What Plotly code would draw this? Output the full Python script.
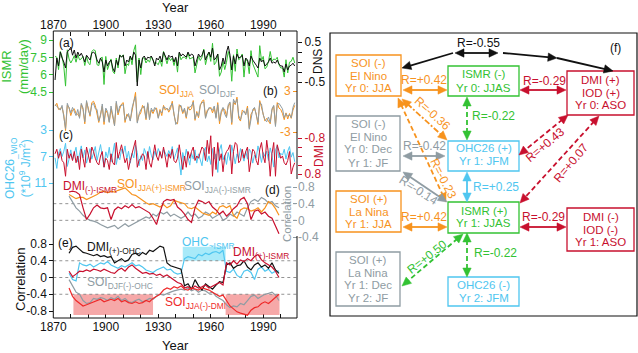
import math
import plotly.graph_objects as go

W, H = 638, 353
FONT = "Liberation Sans, Arial, sans-serif"

# ---------------- data ----------------
years = list(range(1871, 2009))
ismr = [7.58, 7.51, 6.44, 8.01, 7.58, 6.72, 5.01, 8.15, 7.36, 7.01,
        7.29, 7.65, 7.08, 7.72, 7.29, 7.36, 7.58, 6.79, 7.58, 7.01,
        6.86, 8.01, 8.15, 8.08, 6.86, 6.79, 7.44, 7.51, 5.15, 7.58,
        6.44, 7.01, 7.36, 6.29, 6.08, 7.44, 6.58, 7.72, 7.51, 7.72,
        6.08, 6.94, 6.79, 7.58, 6.86, 8.08, 8.58, 5.36, 7.44, 6.01,
        7.44, 7.44, 7.01, 7.29, 7.08, 7.58, 7.22, 6.94, 7.01, 6.86,
        7.29, 6.72, 8.01, 7.44, 6.94, 7.51, 7.22, 7.44, 6.79, 7.44,
        6.22, 7.87, 7.29, 7.51, 7.51, 7.36, 7.87, 7.36, 7.44, 7.51,
        6.15, 6.86, 7.58, 7.22, 7.51, 8.22, 6.86, 7.51, 7.94, 7.15,
        8.72, 6.86, 7.08, 7.79, 5.86, 6.22, 7.15, 6.44, 7.08, 8.01,
        7.44, 5.43, 7.72, 6.29, 8.22, 7.29, 7.44, 7.79, 5.79, 7.36,
        7.15, 6.08, 8.08, 6.94, 6.58, 6.22, 5.79, 8.51, 7.22, 7.58,
        6.51, 6.65, 7.15, 8.01, 7.15, 7.36, 7.29, 7.51, 6.86, 6.58,
        6.58, 5.79, 7.29, 6.15, 7.08, 7.15, 7.51, 7.01]
dns = [-0.45, 0.10, -0.10, 0.25, 0.10, 0.00, -0.15, 0.25, 0.30, 0.37,
       0.17, 0.30, 0.10, 0.25, 0.15, 0.22, 0.12, 0.00, 0.17, 0.10,
       0.05, 0.22, 0.25, 0.20, 0.05, -0.03, 0.10, 0.00, -0.25, 0.05,
       -0.10, 0.00, 0.05, -0.15, -0.25, 0.05, -0.08, 0.17, 0.12, 0.17,
       -0.10, 0.05, 0.00, 0.15, 0.05, 0.25, 0.17, -0.60, 0.05, -0.15,
       0.10, 0.15, 0.05, 0.12, 0.10, 0.15, 0.05, -0.10, 0.10, 0.05,
       0.15, 0.00, 0.25, 0.15, 0.05, 0.17, 0.12, 0.15, 0.00, 0.12,
       -0.10, 0.25, 0.15, 0.20, 0.17, 0.12, 0.25, 0.15, 0.20, 0.17,
       -0.10, 0.05, 0.20, 0.12, 0.17, 0.30, 0.05, 0.17, 0.25, 0.12,
       0.35, 0.05, 0.10, 0.20, -0.20, -0.10, 0.10, -0.05, 0.25, 0.40,
       0.17, -0.20, 0.15, -0.05, 0.20, 0.10, 0.12, 0.17, -0.10, 0.10,
       0.05, -0.10, 0.15, 0.05, -0.03, -0.08, -0.15, 0.10, 0.00, 0.05,
       -0.10, -0.05, 0.00, 0.10, -0.03, 0.00, -0.03, 0.05, -0.05, -0.10,
       -0.10, -0.25, -0.05, -0.20, -0.10, -0.08, -0.03, -0.10]
soi_jja = [0.8, 1.2, 0.3, 0.5, 0.6, -0.5, -2.8, 0.9, 0.6, -0.6,
           0.2, 0.4, -0.3, -0.4, -0.8, 1.0, 0.3, -1.8, 1.4, 0.5,
           -0.7, 1.3, 1.5, 0.9, -0.2, -1.6, -0.4, 0.8, -1.9, 0.2,
           -0.3, -1.5, 0.4, -0.8, -2.0, 1.2, -0.5, 0.4, 1.1, 1.3,
           -1.6, -0.4, -0.6, -1.3, 0.1, 1.8, 2.8, -1.5, -0.6, -0.2,
           0.9, 0.4, -1.2, 1.1, -1.0, 0.2, -0.3, 0.3, 0.5, -0.9,
           0.3, -0.6, 0.9, 0.2, 0.5, -0.1, 0.4, 1.5, -0.5, -1.6,
           -1.8, 1.0, 0.6, -0.3, 0.3, -1.0, 0.7, 0.2, 0.4, 1.6,
           -1.3, 0.0, -0.9, 0.8, 1.5, 1.7, -0.8, 0.2, 0.3, 0.6,
           -0.2, 0.5, -0.8, 1.3, -1.8, -0.2, 0.4, 0.3, -0.7, 0.8,
           1.2, -1.9, 1.4, 1.0, 2.1, -1.0, -1.4, 0.2, -0.1, -0.3,
           0.8, -2.4, -0.4, 0.1, 0.5, -0.4, -1.9, 1.6, 0.7, -0.2,
           -1.4, -1.0, -1.5, -1.8, 0.2, 0.8, -2.0, 1.3, 0.5, 0.3,
           -0.3, -1.2, -0.2, -1.1, -0.3, -1.0, 0.2, 0.9]
soi_djf = [1.0, 0.8, 0.5, 0.2, 0.9, -0.8, -2.5, 1.2, 0.3, -0.2,
           0.6, 0.1, -0.6, 0.3, -1.0, 1.2, 0.5, -1.5, 1.6, 0.2,
           -0.5, 1.0, 1.2, 0.4, 0.3, -1.4, -0.6, 1.1, -1.5, 0.5,
           0.0, -1.6, 0.8, -0.5, -2.1, 1.5, -0.2, 0.8, 0.9, 1.0,
           -1.3, -0.8, -0.3, -1.4, 0.5, 1.5, 2.2, -1.7, -0.4, 0.3,
           0.6, 0.8, -1.0, 1.3, -1.2, 0.5, 0.0, 0.6, 0.2, -1.0,
           0.1, -0.2, 0.7, 0.5, 0.3, 0.2, 0.8, 1.2, -0.3, -1.9,
           -1.5, 0.8, 0.9, -0.1, 0.5, -0.8, 0.5, 0.6, 0.8, 1.4,
           -1.1, -0.2, -0.7, 1.0, 1.3, 1.4, -1.0, -0.1, 0.6, 0.4,
           0.2, 0.8, -1.0, 1.0, -1.4, 0.1, 0.6, -0.4, -0.9, 1.0,
           1.4, -1.6, 1.8, 1.2, 1.8, -0.6, -1.2, -0.3, 0.1, -0.5,
           0.5, -2.6, -0.8, 0.3, 0.6, -0.7, -1.6, 1.3, 1.1, -0.5,
           -1.2, -1.5, -0.8, -1.6, 0.4, 0.9, -2.2, 1.0, 1.2, 0.8,
           0.4, -0.9, -0.3, -0.7, -0.5, -0.9, 0.6, 1.3]
ohc = [7.2, 8.8, 6.5, 5.8, 7.0, 6.2, 5.0, 8.5, 7.4, 6.0,
       7.5, 6.3, 5.6, 7.8, 6.6, 5.4, 7.2, 6.0, 8.0, 6.8,
       5.8, 7.4, 6.2, 5.5, 7.6, 6.4, 5.2, 7.0, 8.6, 6.3,
       7.2, 5.6, 7.8, 6.5, 5.0, 8.2, 6.8, 7.5, 5.9, 6.6,
       5.4, 7.4, 6.2, 8.0, 6.5, 7.2, 5.3, 6.4, 8.4, 6.9,
       7.6, 5.8, 6.6, 7.3, 5.5, 6.8, 7.5, 6.2, 7.0, 5.8,
       6.5, 7.2, 5.9, 6.4, 7.0, 6.1, 6.8, 5.5, 7.4, 6.6,
       5.7, 7.8, 9.8, 6.4, 7.6, 5.9, 7.2, 8.3, 6.5, 7.4,
       6.0, 8.0, 6.6, 7.5, 8.4, 6.2, 5.6, 7.8, 6.9, 8.2,
       5.8, 7.4, 6.6, 9.4, 6.0, 5.2, 7.5, 6.8, 8.2, 6.4,
       7.6, 5.3, 6.8, 8.1, 6.6, 7.3, 5.8, 6.9, 7.7, 6.2,
       7.4, 5.9, 6.3, 8.0, 6.8, 7.2, 5.4, 6.5, 7.9, 6.4,
       7.0, 6.2, 7.6, 5.7, 6.8, 8.6, 6.0, 5.4, 7.2, 6.5,
       6.8, 5.9, 7.4, 6.2, 5.5, 7.1, 6.4, 7.8]
dmi = [-0.1, -0.3, 0.1, -0.2, 0.2, 0.3, 0.9, -0.3, 0.1, -0.1,
       0.2, -0.2, 0.3, 0.0, 0.6, -0.3, 0.1, 0.5, -0.4, 0.0,
       0.3, -0.4, -0.2, 0.1, 0.3, 0.4, 0.0, -0.2, 0.5, 0.1,
       0.2, 0.6, -0.1, 0.3, 0.4, -0.6, 0.1, -0.2, -0.5, -0.1,
       0.3, 0.1, 0.6, 0.2, -0.1, -0.5, -0.7, 0.5, 0.2, 0.1,
       -0.1, 0.0, 0.6, -0.2, 0.3, 0.5, -0.1, -0.5, 0.0, 0.2,
       -0.2, 0.1, -0.4, 0.0, 0.5, -0.1, 0.1, -0.3, 0.2, 0.3,
       0.1, -0.5, 0.2, 0.6, 0.0, 0.5, -0.2, 0.1, -0.2, -0.4,
       0.2, 0.0, 0.1, -0.2, -0.4, -0.3, 0.2, -0.7, -0.1, -0.9,
       0.9, -0.4, 0.6, -0.6, 0.2, -0.1, 0.7, 0.0, -0.2, -0.3,
       -0.5, 0.8, -0.2, -0.6, -0.5, 0.3, 0.2, -0.3, 0.1, -0.2,
       -0.4, 0.7, 0.1, -0.3, -0.2, 0.2, 0.4, -0.3, -0.6, 0.0,
       0.3, -0.7, -0.1, 0.9, -0.1, -0.6, 0.9, -0.5, -0.2, 0.1,
       0.0, 0.3, 0.4, 0.2, -0.2, 0.8, 0.5, 0.3]

cyears = list(range(1879, 2000, 2))
d_dmi_ismr = [0.68, 0.70, 0.68, 0.62, 0.30, 0.02, 0.15, 0.30, 0.37, 0.30,
              0.28, 0.30, 0.02, 0.25, 0.32, 0.28, 0.35, 0.30, 0.38, 0.30,
              0.33, 0.28, 0.22, 0.18, 0.05, -0.10, 0.20, 0.45, 0.50, 0.48,
              0.50, 0.32, 0.25, 0.15, 0.02, -0.05, 0.30, 0.48, 0.45, 0.40,
              0.45, 0.32, 0.25, 0.15, 0.22, 0.10, 0.18, 0.28, 0.35, 0.50,
              0.55, 0.40, 0.02, 0.22, 0.25, 0.15, 0.20, 0.10, 0.05, -0.15,
              -0.32]
d_soi_ismr_p = [0.62, 0.58, 0.52, 0.55, 0.55, 0.50, 0.55, 0.58, 0.62, 0.68,
                0.70, 0.66, 0.70, 0.68, 0.72, 0.75, 0.78, 0.70, 0.62, 0.60,
                0.55, 0.48, 0.42, 0.38, 0.40, 0.35, 0.32, 0.38, 0.30, 0.35,
                0.48, 0.45, 0.42, 0.40, 0.30, 0.28, 0.32, 0.25, 0.18, 0.15,
                0.12, 0.20, 0.15, 0.32, 0.35, 0.30, 0.35, 0.12, 0.05, 0.25,
                0.30, 0.28, 0.22, 0.25, 0.30, 0.20, 0.30, 0.45, 0.40, 0.28,
                0.12]
d_soi_ismr_n = [0.58, 0.45, 0.30, 0.22, 0.12, 0.05, 0.00, -0.02, -0.05, -0.10,
                -0.15, -0.18, -0.15, -0.12, -0.20, -0.15, -0.08, -0.15, -0.10, -0.05,
                -0.02, 0.05, 0.08, 0.05, 0.15, 0.10, 0.20, 0.15, 0.20, 0.10,
                0.15, 0.10, 0.05, 0.10, 0.20, 0.10, 0.15, 0.05, 0.10, 0.20,
                0.15, 0.05, 0.10, 0.15, 0.00, 0.05, 0.15, 0.10, 0.20, 0.15,
                0.10, 0.30, 0.45, 0.50, 0.45, 0.55, 0.50, 0.42, 0.45, 0.35,
                0.30]
e_dmi_ohc = [0.58, 0.72, 0.75, 0.68, 0.60, 0.58, 0.55, 0.52, 0.55, 0.50,
             0.52, 0.48, 0.50, 0.35, 0.40, 0.45, 0.38, 0.42, 0.55, 0.58,
             0.52, 0.60, 0.55, 0.65, 0.62, 0.68, 0.75, 0.72, 0.35, 0.28,
             0.25, 0.22, 0.20, -0.20, -0.15, -0.28, -0.05, -0.20, -0.30, -0.15,
             -0.22, -0.28, -0.18, -0.10, -0.12, 0.30, 0.35, 0.22, 0.28, 0.30,
             0.40, 0.25, 0.18, 0.30, 0.35, 0.25, 0.30, 0.22, 0.35, 0.18,
             0.10]
e_ohc_ismr = [0.10, -0.05, -0.08, 0.35, 0.30, 0.28, 0.32, 0.25, 0.30, 0.35,
              0.32, 0.38, 0.30, 0.25, 0.22, 0.28, 0.25, 0.30, 0.35, 0.28,
              0.30, 0.25, 0.18, 0.15, 0.12, 0.18, 0.22, 0.25, 0.18, 0.20,
              0.12, 0.08, 0.10, 0.45, 0.50, 0.48, 0.45, 0.55, 0.52, 0.58,
              0.55, 0.60, 0.62, 0.58, 0.65, 0.15, 0.12, 0.20, 0.05, 0.00,
              0.15, 0.18, 0.12, -0.05, 0.20, 0.25, 0.15, 0.20, 0.10, 0.15,
              0.15]
e_dmi_ismr = [0.15, 0.02, 0.08, 0.15, 0.14, 0.18, 0.15, 0.20, 0.18, 0.15,
              0.20, 0.15, 0.12, 0.10, 0.18, 0.22, 0.15, 0.25, 0.30, 0.22,
              0.15, 0.10, 0.12, 0.08, 0.10, 0.05, 0.08, 0.02, 0.06, 0.00,
              -0.05, -0.12, -0.15, -0.25, -0.22, -0.28, -0.20, -0.25, -0.22, -0.18,
              -0.25, -0.20, -0.15, -0.12, -0.18, 0.35, 0.30, 0.40, 0.32, 0.42,
              0.38, 0.45, 0.40, 0.50, 0.55, 0.42, 0.35, 0.30, 0.25, 0.15,
              0.00]
e_soidjf_ohc = [-0.05, -0.20, -0.35, -0.40, -0.55, -0.62, -0.60, -0.50, -0.52, -0.48,
                -0.50, -0.55, -0.48, -0.52, -0.45, -0.55, -0.50, -0.58, -0.60, -0.55,
                -0.52, -0.58, -0.55, -0.50, -0.52, -0.45, -0.40, -0.42, -0.38, -0.35,
                -0.32, -0.30, -0.28, -0.30, -0.25, -0.32, -0.28, -0.35, -0.30, -0.32,
                -0.38, -0.35, -0.45, -0.50, -0.55, -0.65, -0.72, -0.68, -0.70, -0.62,
                -0.65, -0.55, -0.45, -0.42, -0.50, -0.45, -0.40, -0.38, -0.35, -0.42,
                -0.55]
e_soijja_dmi = [-0.25, -0.45, -0.55, -0.62, -0.68, -0.65, -0.62, -0.58, -0.55, -0.52,
                -0.58, -0.55, -0.52, -0.55, -0.50, -0.58, -0.55, -0.60, -0.62, -0.58,
                -0.62, -0.60, -0.55, -0.58, -0.50, -0.45, -0.40, -0.30, -0.25, -0.28,
                -0.22, -0.25, -0.20, -0.28, -0.30, -0.25, -0.28, -0.30, -0.25, -0.28,
                -0.30, -0.35, -0.40, -0.45, -0.42, -0.55, -0.68, -0.75, -0.82, -0.85,
                -0.88, -0.90, -0.78, -0.72, -0.70, -0.62, -0.58, -0.62, -0.55, -0.48,
                -0.40]
red_periods = [(1881.5, 1927.0), (1968.5, 1999.3)]
red_band = (-0.4, -0.895)
blue_periods = [(1944.0, 1968.5)]
blue_band = (0.4, 0.735)

# ---------------- styles ----------------
GREEN = "#33C233"
ORANGE = "#F7931E"
GRAY = "#8F9CA3"
BLUE = "#4FC6F0"
RED = "#C8102E"
BRED = "#EE2A2A"
BLACK = "#111111"

XL, XR, YT, YB = 53.3, 297.0, 31.0, 318.0


def fx(px):
    return px / W


def fy(py):
    return 1 - py / H


def yax(v1, p1, v2, p2, ptop, pbot, **kw):
    k = (p2 - p1) / (v2 - v1)
    vt = v1 + (ptop - p1) / k
    vb = v1 + (pbot - p1) / k
    d = dict(domain=[fy(pbot), fy(ptop)], range=[vb, vt], showgrid=False,
             zeroline=False, anchor="free", automargin=False, fixedrange=True,
             showline=False, ticks="outside", ticklen=4, tickwidth=1,
             tickfont=dict(size=12, family=FONT))
    d.update(kw)
    return d


fig = go.Figure()


def add(x, y, ya, color, w=1.0):
    fig.add_trace(go.Scatter(x=x, y=y, mode="lines", xaxis="x", yaxis=ya,
                             line=dict(color=color, width=w),
                             hoverinfo="skip", showlegend=False))


add(years, ismr, "y", GREEN)
add(years, dns, "y2", BLACK)
add(years, soi_jja, "y3", ORANGE)
add(years, soi_djf, "y3", GRAY)
add(years, ohc, "y4", BLUE)
add(years, dmi, "y5", RED)
add(cyears, d_soi_ismr_n, "y6", GRAY, 1.2)
add(cyears, d_soi_ismr_p, "y6", ORANGE, 1.2)
add(cyears, d_dmi_ismr, "y6", RED, 1.2)
add(cyears, e_soidjf_ohc, "y7", GRAY, 1.2)
add(cyears, e_ohc_ismr, "y7", BLUE, 1.2)
add(cyears, e_dmi_ohc, "y7", BLACK, 1.2)
add(cyears, e_dmi_ismr, "y7", RED, 1.2)
add(cyears, e_soijja_dmi, "y7", BRED, 1.2)
# dummy for top axis
fig.add_trace(go.Scatter(x=[1900], y=[7], xaxis="x2", yaxis="y", mode="markers",
                         marker=dict(opacity=0), hoverinfo="skip", showlegend=False))

xcommon = dict(domain=[fx(XL), fx(XR)], range=[1870, 2009.3], showgrid=False,
               zeroline=False, anchor="free", automargin=False, fixedrange=True,
               showline=False, tickmode="linear", tick0=1870, dtick=30,
               ticks="inside", ticklen=4, tickcolor=BLACK,
               minor=dict(dtick=10, tick0=1870, ticks="inside", ticklen=4, tickcolor=BLACK),
               tickfont=dict(size=12, family=FONT, color=BLACK))

layout = dict(
    width=W, height=H, margin=dict(l=0, r=0, t=0, b=0),
    paper_bgcolor="white", plot_bgcolor="rgba(0,0,0,0)", template="none",
    font=dict(family=FONT, size=12, color=BLACK), showlegend=False,
    xaxis=dict(xcommon, position=fy(YB)),
    xaxis2=dict(xcommon, position=fy(YT), side="top", overlaying="x"),
    yaxis=yax(9, 40, 4.5, 92, 32, 100, position=fx(XL), side="left",
              tickvals=[4.5, 6, 7.5, 9], ticktext=["4.5", "6", "7.5", "9"],
              tickcolor=GREEN, tickfont=dict(size=12, family=FONT, color=GREEN)),
    yaxis2=yax(0.5, 42, -0.5, 82, 32, 100, position=fx(XR), side="right",
               tickvals=[-0.5, 0.5], ticktext=["-0.5", "0.5"],
               minor=dict(tickmode="array", tickvals=[-0.25, 0, 0.25], ticks="outside",
                          ticklen=4, tickcolor=BLACK),
               tickcolor=BLACK, tickfont=dict(size=12, family=FONT, color=BLACK)),
    yaxis3=yax(3, 91, -3, 132, 85, 142, position=fx(XR), side="left",
               tickvals=[-3, 3], ticktext=["-3", "3"],
               tickcolor=ORANGE, tickfont=dict(size=12, family=FONT, color=ORANGE)),
    yaxis4=yax(3, 130, 11, 183, 125, 195, position=fx(XL), side="left",
               tickvals=[3, 7, 11], ticktext=["3", "7", "11"],
               tickcolor=BLUE, tickfont=dict(size=12, family=FONT, color=BLUE)),
    yaxis5=yax(-0.8, 138, 0.8, 174, 125, 195, position=fx(XR), side="right",
               tickvals=[-0.8, 0.8], ticktext=["-0.8", "0.8"],
               minor=dict(tickmode="array", tickvals=[-0.4, 0, 0.4], ticks="outside",
                          ticklen=4, tickcolor=RED),
               tickcolor=RED, tickfont=dict(size=12, family=FONT, color=RED)),
    yaxis6=yax(0.8, 187, -0.4, 237, 178, 246, position=fx(XR), side="right",
               ticks="inside", tickvals=[-0.4, 0, 0.4, 0.8], ticktext=["-0.4", "0", "0.4", "0.8"],
               tickcolor=GRAY, tickfont=dict(size=12, family=FONT, color=GRAY)),
    yaxis7=yax(0.8, 244, -0.8, 311, 236, YB, position=fx(XL), side="left",
               tickvals=[-0.8, -0.4, 0, 0.4, 0.8], ticktext=["-0.8", "-0.4", "0", "0.4", "0.8"],
               tickcolor=BLACK, tickfont=dict(size=12, family=FONT, color=BLACK)),
)
fig.update_layout(**layout)

shapes = []
annots = []

# bands in panel (e)
for a, b in red_periods:
    shapes.append(dict(type="rect", xref="x", yref="y7", x0=a, x1=b, y0=red_band[0], y1=red_band[1],
                       fillcolor="rgba(240,110,110,0.6)", line=dict(width=0), layer="below"))
for a, b in blue_periods:
    shapes.append(dict(type="rect", xref="x", yref="y7", x0=a, x1=b, y0=blue_band[0], y1=blue_band[1],
                       fillcolor="rgba(110,220,245,0.6)", line=dict(width=0), layer="below"))
# dotted reference lines
for v in [0.4, 0]:
    shapes.append(dict(type="line", xref="x", yref="y6", x0=1870, x1=2009.3, y0=v, y1=v,
                       line=dict(color="#777", width=0.8, dash="dot"), layer="below"))
for v in [0.4, 0, -0.4]:
    shapes.append(dict(type="line", xref="x", yref="y7", x0=1870, x1=2009.3, y0=v, y1=v,
                       line=dict(color="#777", width=0.8, dash="dot"), layer="below"))


def pline(x0, y0, x1, y1, color=BLACK, w=1.0, dash=None):
    ln = dict(color=color, width=w)
    if dash:
        ln["dash"] = dash
    shapes.append(dict(type="line", xref="paper", yref="paper", x0=fx(x0), y0=fy(y0),
                       x1=fx(x1), y1=fy(y1), line=ln, layer="above"))


# left panel frame
pline(XL, YT, XR, YT)
pline(XL, YB, XR, YB)
pline(XL, YT, XL, YB)
pline(XR, YT, XR, 179)
pline(XR, 236, XR, YB)


def text(t, x, y, color=BLACK, size=12, angle=0, xanchor="center"):
    annots.append(dict(text=t, x=fx(x), y=fy(y), xref="paper", yref="paper", showarrow=False,
                       xanchor=xanchor, yanchor="middle", textangle=angle,
                       font=dict(size=size, color=color, family=FONT)))


text("Year", 175, 8, size=13)
text("Year", 175, 345, size=13)
text("ISMR<br>(mm/day)", 15, 67, GREEN, 13, -90)
text("OHC26<sub>_WIO</sub><br>(*10<sup>9</sup> J/m<sup>2</sup>)", 18, 168, BLUE, 12, -90)
text("Correlation", 20, 279, BLACK, 13, -90)
text("DNS", 318, 62, BLACK, 12, -90)
text("DMI", 319, 156, RED, 12, -90)
text("Correlation", 287, 214, GRAY, 11.5, -90)
text("(a)", 57, 43, xanchor="left")
text("SOI<sub>JJA</sub>", 157, 91, ORANGE, 12, xanchor="left")
text("SOI<sub>DJF</sub>", 197, 91, GRAY, 12, xanchor="left")
text("(b)", 261, 91, xanchor="left")
text("(c)", 57, 135, xanchor="left")
text("DMI<sub>(-)-ISMR</sub>", 61, 187, RED, 12, xanchor="left")
text("SOI<sub>JJA(+)-ISMR</sub>", 115, 185, ORANGE, 12, xanchor="left")
text("SOI<sub>JJA(-)-ISMR</sub>", 182, 187, GRAY, 12, xanchor="left")
text("(d)", 263, 190, xanchor="left")
text("(e)", 56, 243, xanchor="left")
text("DMI<sub>(+)-OHC</sub>", 85, 248, BLACK, 12, xanchor="left")
text("OHC<sub>~ISMR</sub>", 180, 243, BLUE, 12, xanchor="left")
text("DMI<sub>(+)-ISMR</sub>", 231, 253, RED, 12, xanchor="left")
text("SOI<sub>DJF(-)-OHC</sub>", 85, 283, GRAY, 12, xanchor="left")
text("SOI<sub>JJA(-)-DMI</sub>", 163, 303, BRED, 12, xanchor="left")

# ---------------- right panel (f) ----------------
shapes.append(dict(type="rect", xref="paper", yref="paper", x0=fx(330), y0=fy(33), x1=fx(637), y1=fy(316),
                   line=dict(color=BLACK, width=1.2)))

boxes = [
    (336, 55, 401, 96, ORANGE, ["SOI (-)", "El Nino", "Yr 0: JJA"], [63, 76, 88]),
    (448, 66, 519, 96, GREEN, ["ISMR (-)", "Yr 0: JJAS"], [74, 88]),
    (567, 71, 634, 115, RED, ["DMI (+)", "IOD (+)", "Yr 0: ASO"], [80, 93, 105]),
    (336, 116, 400, 171, GRAY, ["SOI (-)", "El Nino", "Yr 0: Dec", "Yr 1: JF"], [124, 137, 149, 163]),
    (448, 141, 519, 171, BLUE, ["OHC26 (+)", "Yr 1: JFM"], [148, 161]),
    (336, 191, 401, 232, ORANGE, ["SOI (+)", "La Nina", "Yr 1: JJA"], [199, 212, 224]),
    (448, 202, 519, 233, GREEN, ["ISMR (+)", "Yr 1: JJAS"], [211, 223]),
    (567, 208, 634, 251, RED, ["DMI (-)", "IOD (-)", "Yr 1: ASO"], [217, 230, 242]),
    (336, 252, 400, 306, GRAY, ["SOI (+)", "La Nina", "Yr 1: Dec", "Yr 2: JF"], [260, 273, 285, 298]),
    (448, 277, 519, 306, BLUE, ["OHC26 (-)", "Yr 2: JFM"], [285, 298]),
]
for x0, y0, x1, y1, c, lines, ys in boxes:
    shapes.append(dict(type="rect", xref="paper", yref="paper", x0=fx(x0), y0=fy(y0), x1=fx(x1), y1=fy(y1),
                       line=dict(color=c, width=1.3)))
    for t, yy in zip(lines, ys):
        text(t, (x0 + x1) / 2, yy, c, 11.5)


def head(tx, ty, ux, uy, color, hl=9.0, hw=4.2):
    bx, by = tx - hl * ux, ty - hl * uy
    nx, ny = -uy, ux
    pts = [(tx, ty), (bx + hw * nx, by + hw * ny), (bx - hw * nx, by - hw * ny)]
    path = "M " + " L ".join(f"{fx(px):.5f},{fy(py):.5f}" for px, py in pts) + " Z"
    shapes.append(dict(type="path", xref="paper", yref="paper", path=path,
                       fillcolor=color, line=dict(color=color, width=0.5)))


def arrow(p0, p1, color, dash=None, heads="both", w=1.8):
    (x0, y0), (x1, y1) = p0, p1
    L = math.hypot(x1 - x0, y1 - y0)
    ux, uy = (x1 - x0) / L, (y1 - y0) / L
    sx0, sy0, sx1, sy1 = x0, y0, x1, y1
    if heads in ("both", "end"):
        head(x1, y1, ux, uy, color)
        sx1, sy1 = x1 - 7 * ux, y1 - 7 * uy
    if heads in ("both", "start"):
        head(x0, y0, -ux, -uy, color)
        sx0, sy0 = x0 + 7 * ux, y0 + 7 * uy
    pline(sx0, sy0, sx1, sy1, color, w, dash)


DASH = "5px,3px"
DASHDOT = "6px,2px,2px,2px"
arrows = [
    ((453, 53), (402, 68), BLACK, None, "end"),
    ((455, 53), (498, 53), BLACK, None, "both"),
    ((503, 53), (557, 58), BLACK, None, "end"),
    ((557, 58), (613, 71), BLACK, None, "end"),
    ((403, 90), (447, 90), ORANGE, None, "both"),
    ((520, 90), (566, 90), RED, None, "both"),
    ((467, 97), (467, 140), GREEN, DASH, "both"),
    ((402, 99), (447, 140), ORANGE, DASHDOT, "both"),
    ((398, 98), (446, 202), ORANGE, DASH, "both"),
    ((403, 156), (445, 156), GRAY, None, "both"),
    ((403, 172), (447, 202), GRAY, None, "both"),
    ((467, 172), (467, 202), BLUE, None, "both"),
    ((568, 115), (519, 155), RED, DASH, "both"),
    ((599, 116), (520, 203), RED, DASH, "both"),
    ((403, 227), (447, 227), ORANGE, None, "both"),
    ((520, 227), (566, 227), RED, None, "both"),
    ((467, 233), (467, 277), GREEN, DASH, "both"),
    ((463, 234), (402, 286), GREEN, DASH, "both"),
]
for p0, p1, c, d, h in arrows:
    arrow(p0, p1, c, d, h)

rlabels = [
    ("R=-0.55", 478, 43, BLACK, 0),
    ("R=+0.42", 424, 80, ORANGE, 0),
    ("R=-0.29", 544, 81, RED, 0),
    ("R=-0.22", 493, 116, GREEN, 0),
    ("R=-0.36", 432, 113, ORANGE, 42),
    ("R=-0.42", 424, 146, GRAY, 0),
    ("R=+0.43", 545, 145, RED, -40),
    ("R=+0.07", 571, 163, RED, -50),
    ("R=-0.23", 443, 178, ORANGE, 63),
    ("R=-0.14", 418, 190, GRAY, 33),
    ("R=+0.25", 496, 187, BLUE, 0),
    ("R=+0.42", 424, 217, ORANGE, 0),
    ("R=-0.29", 543, 217, RED, 0),
    ("R=-0.22", 495, 253, GREEN, 0),
    ("R=+0.50", 427, 257, GREEN, -38),
    ("(f)", 615, 48, BLACK, 0),
]
for t, x, y, c, a in rlabels:
    text(t, x, y, c, 12, a)

fig.update_layout(shapes=shapes, annotations=annots)
fig.write_html("out.html")
